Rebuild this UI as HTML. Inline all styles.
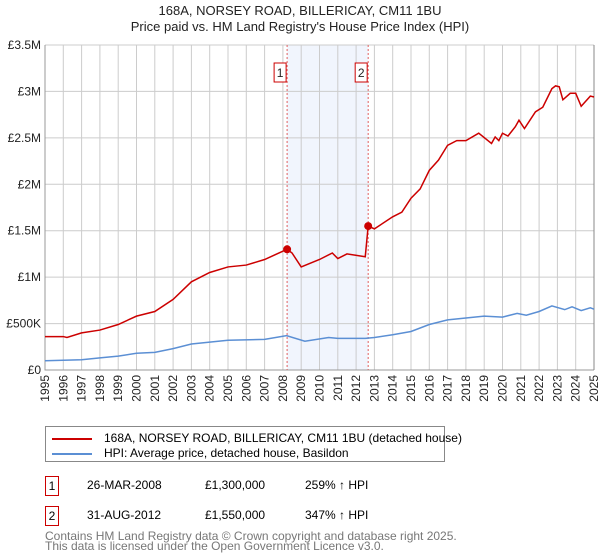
<!DOCTYPE html>
<html><head><meta charset="utf-8"><style>
body{margin:0;width:600px;height:560px;background:#fff;font-family:"Liberation Sans","DejaVu Sans",sans-serif;position:relative;overflow:hidden}
.t{position:absolute;white-space:nowrap}
</style></head><body>
<div class="t" style="left:0;width:600px;text-align:center;top:3px;font-size:13px;line-height:16px;color:#222">168A, NORSEY ROAD, BILLERICAY, CM11 1BU<br>Price paid vs. HM Land Registry's House Price Index (HPI)</div>
<svg id="chart" width="600" height="410" style="position:absolute;left:0;top:0" font-family="Liberation Sans, DejaVu Sans, sans-serif"></svg>
<div style="position:absolute;left:45px;top:426px;width:398px;height:34px;border:1px solid #888">
 <div style="position:absolute;left:6px;top:4px;font-size:12px;white-space:nowrap"><span style="display:inline-block;width:40px;height:2px;background:#cc0000;vertical-align:middle;margin-right:12px"></span>168A, NORSEY ROAD, BILLERICAY, CM11 1BU (detached house)</div>
 <div style="position:absolute;left:6px;top:19px;font-size:12px;white-space:nowrap"><span style="display:inline-block;width:40px;height:2px;background:#5b8fd4;vertical-align:middle;margin-right:12px"></span>HPI: Average price, detached house, Basildon</div>
</div>
<div>
<div class="t" style="left:45px;top:476px;width:12px;height:18px;border:1px solid #cc0000;font-size:12px;text-align:center;line-height:18px">1</div>
<div class="t" style="left:87px;top:478px;font-size:12px">26-MAR-2008</div>
<div class="t" style="left:205px;top:478px;font-size:12px">£1,300,000</div>
<div class="t" style="left:305px;top:478px;font-size:12px">259% ↑ HPI</div></div>
<div>
<div class="t" style="left:45px;top:506px;width:12px;height:18px;border:1px solid #cc0000;font-size:12px;text-align:center;line-height:18px">2</div>
<div class="t" style="left:87px;top:508px;font-size:12px">31-AUG-2012</div>
<div class="t" style="left:205px;top:508px;font-size:12px">£1,550,000</div>
<div class="t" style="left:305px;top:508px;font-size:12px">347% ↑ HPI</div></div>
<div class="t" style="left:45px;top:531px;font-size:12px;line-height:10px;color:#777">Contains HM Land Registry data © Crown copyright and database right 2025.<br>This data is licensed under the Open Government Licence v3.0.</div>
<script>
const redYears=[1995,1996,1996.2,1997,1998,1999,2000,2001,2002,2003,2004,2005,2006,2007,2008.23,2008.5,2009,2010,2010.7,2011,2011.5,2012.5,2012.66,2013,2014,2014.5,2015,2015.5,2016,2016.5,2017,2017.5,2018,2018.7,2019.4,2019.6,2019.8,2020,2020.3,2020.7,2020.9,2021.2,2021.8,2022.2,2022.7,2022.9,2023.1,2023.3,2023.7,2024,2024.3,2024.8,2025];
const redVals=[0.36,0.36,0.35,0.40,0.43,0.49,0.58,0.63,0.76,0.95,1.05,1.11,1.13,1.19,1.30,1.26,1.11,1.19,1.26,1.20,1.25,1.22,1.55,1.52,1.65,1.70,1.85,1.95,2.15,2.26,2.42,2.47,2.47,2.55,2.44,2.51,2.47,2.55,2.52,2.62,2.69,2.60,2.78,2.83,3.03,3.06,3.05,2.91,2.98,2.98,2.84,2.95,2.94];
const hpiYears=[1995,1997,1998,1999,2000,2001,2002,2003,2004,2005,2007,2008.2,2009.2,2010.5,2011,2012.5,2013,2014,2015,2016,2017,2018,2019,2020,2020.8,2021.3,2022,2022.7,2023.4,2023.8,2024.3,2024.8,2025];
const hpiVals=[0.10,0.11,0.13,0.15,0.18,0.19,0.23,0.28,0.30,0.32,0.33,0.37,0.31,0.35,0.34,0.34,0.35,0.38,0.415,0.49,0.54,0.56,0.58,0.57,0.61,0.59,0.63,0.69,0.65,0.68,0.64,0.67,0.655];
const yTicks=[0,0.5,1,1.5,2,2.5,3,3.5];
const yTickLabels=["£0","£500K","£1M","£1.5M","£2M","£2.5M","£3M","£3.5M"];
const sales=[{n:"1",year:2008.23,val:1.30},{n:"2",year:2012.66,val:1.55}];
const X0=45,X1=594,Y0=370,Y1=45;
const xs=y=>X0+(y-1995)/30*(X1-X0);
const ys=v=>Y0-v/3.5*(Y0-Y1);
const svg=document.getElementById('chart');const NS='http://www.w3.org/2000/svg';
function mk(t,a,p){const e=document.createElementNS(NS,t);for(const k in a)e.setAttribute(k,a[k]);(p||svg).appendChild(e);return e;}
const shade=mk('rect',{x:xs(sales[0].year),y:Y1,width:xs(sales[1].year)-xs(sales[0].year),height:Y0-Y1,fill:'#eef3fc',opacity:0.8});


for(let yr=1995;yr<=2025;yr++){
 const g=mk('line',{x1:xs(yr),x2:xs(yr),y1:Y1,y2:Y0,stroke:'#ccc','stroke-width':1});
 
 
 const t=mk('text',{x:0,y:0,'font-size':12,fill:'#222','text-anchor':'end',transform:`translate(${xs(yr)+4},375) rotate(-90)`});
 t.textContent=yr;
 
 
}
yTicks.forEach((v,i)=>{
 const g=mk('line',{x1:X0,x2:X1,y1:ys(v),y2:ys(v),stroke:'#ccc','stroke-width':1});
 
 
 const t=mk('text',{x:X0-4,y:ys(v)+4,'font-size':12,fill:'#222','text-anchor':'end'});
 t.textContent=yTickLabels[i];
 
 
});
const ax=mk('path',{d:`M${X0},${Y1}V${Y0}H${X1}`,fill:'none',stroke:'#999'});


const ed=mk('line',{x1:X1,x2:X1,y1:Y1,y2:Y0,stroke:'#888'});


sales.forEach(s=>{
 const l=mk('line',{x1:xs(s.year),x2:xs(s.year),y1:Y1,y2:Y0,stroke:'#e06060','stroke-dasharray':'2,2'});
 
 
 const r=mk('rect',{x:xs(s.year)-13,y:63,width:12,height:19,fill:'#fff',stroke:'#cc0000'});
 
 
 const t=mk('text',{x:xs(s.year)-7,y:77,'font-size':12,'text-anchor':'middle',fill:'#222'});
 t.textContent=s.n;
 
 
});
const hp=mk('polyline',{points:hpiYears.map((y,i)=>xs(y)+','+ys(hpiVals[i])).join(' '),fill:'none',stroke:'#5b8fd4','stroke-width':1.5});


const rp=mk('polyline',{points:redYears.map((y,i)=>xs(y)+','+ys(redVals[i])).join(' '),fill:'none',stroke:'#cc0000','stroke-width':1.5});


sales.forEach(s=>{
 const c=mk('circle',{cx:xs(s.year),cy:ys(s.val),r:4,fill:'#cc0000'});
 
 
});
</script>
</body></html>
